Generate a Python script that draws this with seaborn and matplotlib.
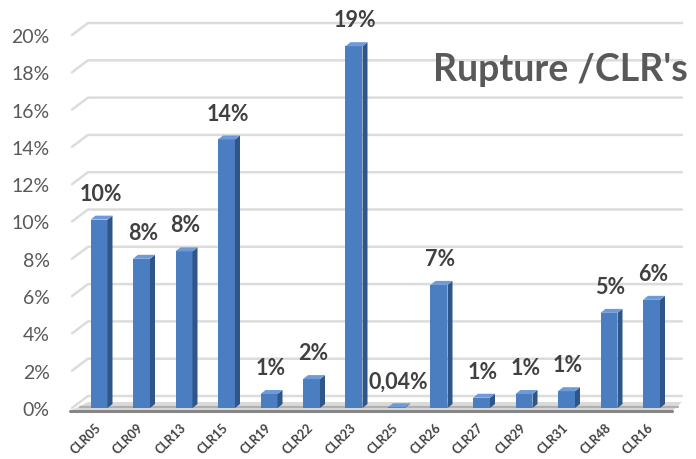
import matplotlib
matplotlib.use("Agg")
import matplotlib.pyplot as plt
from matplotlib.patches import Polygon
from matplotlib.lines import Line2D
from matplotlib.transforms import IdentityTransform
from matplotlib.ticker import FuncFormatter
import pandas as pd
import seaborn as sns

# Rupture rate per CLR line
codes = ["CLR05", "CLR09", "CLR13", "CLR15", "CLR19", "CLR22", "CLR23",
         "CLR25", "CLR26", "CLR27", "CLR29", "CLR31", "CLR48", "CLR16"]
rates = [0.101, 0.080, 0.084, 0.144, 0.0075, 0.0155, 0.194,
         0.0004, 0.066, 0.0055, 0.0075, 0.009, 0.051, 0.058]
y_ticks = [0.00, 0.02, 0.04, 0.06, 0.08, 0.10, 0.12, 0.14, 0.16, 0.18, 0.20]
title = "Rupture /CLR's"

df = pd.DataFrame({"code": codes, "rate": rates})

sns.set_theme(style="white")
plt.rcParams["font.family"] = ["Lato", "DejaVu Sans"]

W, H = 696, 460
fig = plt.figure(figsize=(W / 100, H / 100), dpi=100)
ax = fig.add_axes([72 / W, 45 / H, 610 / W, 395 / H])

FRONT = "#4a7ec1"
SIDE = "#2f5689"
TOP = "#6e9bd8"
TXT = "#595959"
PIX = IdentityTransform()

sns.barplot(data=df, x="code", y="rate", color=FRONT, saturation=1,
            width=0.4, ax=ax, zorder=3, linewidth=0)

px_per_unit = 1865.0
ymin = -6 / px_per_unit
ax.set_ylim(ymin, ymin + 395 / px_per_unit)
xmin = -27 / 42.5
ax.set_xlim(xmin, xmin + 610 / 42.5)

for s in ax.spines.values():
    s.set_visible(False)
ax.grid(False)
ax.set_xlabel("")
ax.set_ylabel("")
ax.set_yticks(y_ticks)
ax.yaxis.set_major_formatter(FuncFormatter(lambda v, _: f"{v * 100:.0f}%"))
ax.tick_params(axis="y", length=0, pad=16, labelsize=14, labelcolor=TXT)
ax.tick_params(axis="x", length=0, pad=8, labelsize=9, labelcolor="#404040")
for lab in ax.get_xticklabels():
    lab.set_rotation(45)
    lab.set_ha("right")
    lab.set_va("center")
    lab.set_rotation_mode("anchor")
    lab.set_fontweight("bold")

T = ax.transData.transform
left_px = ax.transAxes.transform((0, 0))[0]
right_px = ax.transAxes.transform((1, 0))[0]


def add_line(xs, ys, **kw):
    ln = Line2D(xs, ys, transform=PIX, clip_on=False, **kw)
    ax.add_artist(ln)


def add_poly(pts, **kw):
    pg = Polygon(pts, closed=True, transform=PIX, clip_on=False,
                 edgecolor="none", **kw)
    ax.add_artist(pg)


# back-wall gridlines with a short slanted side-wall segment
wall_dx, wall_dy = 16, 12
for v in y_ticks:
    y = T((0, v))[1]
    add_line([left_px, left_px + wall_dx, right_px],
             [y, y + wall_dy, y + wall_dy], color="#dcdcdc", lw=1.8, zorder=1)

# floor slab
y0 = T((0, 0))[1]
add_poly([(left_px - 2, y0 - 3), (right_px - 10, y0 - 3),
          (right_px, y0 + 6), (left_px + wall_dx, y0 + 6)],
         facecolor="#dadada", zorder=1.5)
add_line([left_px + 8, right_px - 4], [y0 + 1, y0 + 1],
         color="#b0b0b0", lw=1.6, zorder=1.6)
add_line([left_px - 2, right_px - 10], [y0 - 2.5, y0 - 2.5],
         color="#858585", lw=2.2, zorder=1.7)

# depth faces and value labels for each bar
dx, dy = 5, 4
for p, v in zip(ax.patches, rates):
    x0 = p.get_x()
    x1 = x0 + p.get_width()
    h = p.get_height()
    br = T((x1, 0)); tl = T((x0, h)); tr = T((x1, h))
    add_poly([br, tr, (tr[0] + dx, tr[1] + dy), (br[0] + dx, br[1] + dy)],
             facecolor=SIDE, zorder=4)
    add_poly([tl, tr, (tr[0] + dx, tr[1] + dy), (tl[0] + dx, tl[1] + dy)],
             facecolor=TOP, zorder=4)

    label = f"{v * 100:.2f}%".replace(".", ",") if v < 0.005 else f"{v * 100:.0f}%"
    ax.annotate(label, (x0 + p.get_width() / 2, h), xytext=(1, 19),
                textcoords="offset points", ha="center", va="center",
                fontsize=15.5, fontweight="bold", color="#404040", zorder=5)

fig.text(433 / W, 1 - 70 / H, title, ha="left", va="center",
         fontsize=27, fontweight="bold", color=TXT)

fig.savefig("out.png", dpi=100)
